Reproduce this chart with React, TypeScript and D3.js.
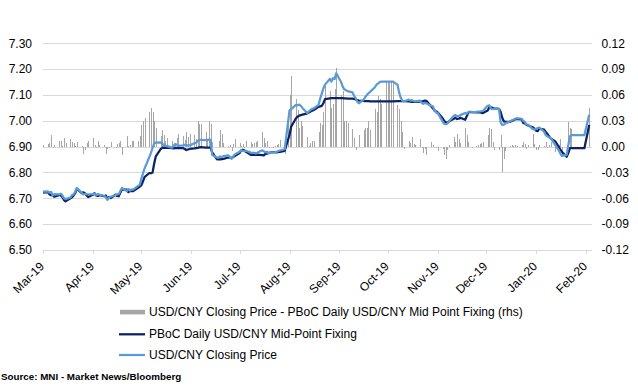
import React from "react";
import * as d3 from "d3";

/* chart size */
const W = 638;
const H = 389;

/* x categories: every weekday from 1 Mar 2019 to 3 Feb 2020 */
const dates = d3.timeDay
  .range(new Date(2019, 2, 1), new Date(2020, 1, 4))
  .filter((d) => d.getDay() !== 0 && d.getDay() !== 6);

const monthLabels = [
  "Mar-19", "Apr-19", "May-19", "Jun-19", "Jul-19", "Aug-19",
  "Sep-19", "Oct-19", "Nov-19", "Dec-19", "Jan-20", "Feb-20",
];
const leftTicks = [6.5, 6.6, 6.7, 6.8, 6.9, 7.0, 7.1, 7.2, 7.3];
const rightTicks = [-0.12, -0.09, -0.06, -0.03, 0, 0.03, 0.06, 0.09, 0.12];

// USD/CNY closing price (light blue)
const closing = [
  // Mar
  6.726, 6.727, 6.722, 6.725, 6.712, 6.716, 6.715, 6.718, 6.712, 6.700, 6.697, 6.703, 6.712, 6.716, 6.725, 6.740, 6.722, 6.715, 6.716, 6.716, 6.715,
  // Apr
  6.716, 6.718, 6.712, 6.716, 6.714, 6.710, 6.704, 6.694, 6.702, 6.706, 6.712, 6.716, 6.716, 6.728, 6.740, 6.728, 6.736, 6.730, 6.735, 6.734, 6.748, 6.752,
  // May
  6.775, 6.795, 6.815, 6.860, 6.876, 6.895, 6.912, 6.916, 6.917, 6.912, 6.906, 6.903, 6.902, 6.896, 6.904, 6.909, 6.908, 6.903, 6.905, 6.907, 6.906, 6.904, 6.905,
  // Jun
  6.913, 6.915, 6.922, 6.926, 6.926, 6.925, 6.926, 6.927, 6.926, 6.868, 6.858, 6.858, 6.862, 6.860, 6.863, 6.866, 6.860, 6.853, 6.862, 6.870,
  // Jul
  6.880, 6.886, 6.884, 6.883, 6.884, 6.877, 6.876, 6.876, 6.874, 6.876, 6.886, 6.882, 6.878, 6.880, 6.874, 6.878, 6.878, 6.880, 6.883, 6.885, 6.890, 6.940, 6.990,
  // Aug
  7.040, 7.045, 7.062, 7.060, 7.063, 7.058, 7.050, 7.030, 7.036, 7.042, 7.046, 7.048, 7.062, 7.085, 7.105, 7.125, 7.140, 7.162, 7.152, 7.165, 7.162, 7.184,
  // Sep
  7.150, 7.132, 7.122, 7.118, 7.115, 7.110, 7.098, 7.088, 7.075, 7.068, 7.082, 7.092, 7.100, 7.107, 7.112, 7.130, 7.140, 7.145, 7.150, 7.152, 7.152,
  // Oct
  7.152, 7.152, 7.152, 7.152, 7.140, 7.110, 7.090, 7.078, 7.075, 7.082, 7.078, 7.080, 7.076, 7.075, 7.078, 7.070, 7.066, 7.070, 7.067, 7.058, 7.056, 7.040, 7.032,
  // Nov
  7.030, 6.998, 6.988, 6.987, 6.990, 6.998, 7.020, 7.022, 7.016, 7.018, 7.022, 7.030, 7.028, 7.034, 7.036, 7.034, 7.035, 7.036, 7.036, 7.037, 7.038,
  // Dec
  7.058, 7.060, 7.048, 7.045, 7.048, 7.045, 6.995, 6.984, 6.985, 6.990, 6.998, 7.002, 7.004, 7.008, 7.010, 7.008, 7.000, 6.996, 6.986, 6.985, 6.968, 6.965,
  // Jan
  6.968, 6.972, 6.974, 6.958, 6.945, 6.940, 6.936, 6.934, 6.906, 6.896, 6.887, 6.875, 6.864, 6.868, 6.905, 6.940, 6.945, 6.945, 6.945, 6.945, 6.945, 6.945, 6.945,
  // Feb
  7.023,
];

// PBoC daily mid-point fixing (navy)
const fixing = [
  // Mar
  6.722, 6.724, 6.716, 6.712, 6.713, 6.706, 6.712, 6.712, 6.705, 6.694, 6.688, 6.700, 6.704, 6.711, 6.720, 6.737, 6.720, 6.723, 6.720, 6.712, 6.705,
  // Apr
  6.714, 6.720, 6.710, 6.709, 6.712, 6.708, 6.711, 6.697, 6.705, 6.701, 6.714, 6.709, 6.708, 6.722, 6.735, 6.734, 6.724, 6.728, 6.729, 6.728, 6.741, 6.745,
  // May
  6.750, 6.765, 6.782, 6.798, 6.797, 6.800, 6.835, 6.862, 6.890, 6.895, 6.896, 6.895, 6.896, 6.894, 6.893, 6.894, 6.895, 6.894, 6.894, 6.891, 6.887, 6.889, 6.891,
  // Jun
  6.893, 6.894, 6.895, 6.897, 6.898, 6.896, 6.896, 6.896, 6.896, 6.878, 6.851, 6.852, 6.851, 6.852, 6.853, 6.858, 6.857, 6.856, 6.860, 6.864,
  // Jul
  6.875, 6.885, 6.888, 6.886, 6.880, 6.868, 6.868, 6.869, 6.868, 6.869, 6.867, 6.866, 6.872, 6.873, 6.876, 6.879, 6.879, 6.878, 6.880, 6.880, 6.884, 6.905, 6.925,
  // Aug
  6.946, 6.977, 7.010, 7.016, 7.020, 7.022, 7.024, 7.029, 7.032, 7.036, 7.039, 7.042, 7.054, 7.056, 7.058, 7.068, 7.084, 7.087, 7.088, 7.088, 7.088, 7.088,
  // Sep
  7.088, 7.088, 7.087, 7.087, 7.086, 7.086, 7.085, 7.083, 7.080, 7.078, 7.077, 7.076, 7.076, 7.076, 7.075, 7.075, 7.075, 7.075, 7.075, 7.075, 7.075,
  // Oct
  7.075, 7.075, 7.075, 7.075, 7.076, 7.076, 7.076, 7.076, 7.076, 7.075, 7.074, 7.073, 7.073, 7.073, 7.074, 7.075, 7.076, 7.078, 7.077, 7.055, 7.048, 7.040, 7.036,
  // Nov
  7.032, 7.010, 7.000, 6.994, 6.992, 6.998, 7.008, 7.012, 7.007, 7.008, 7.012, 7.004, 7.018, 7.032, 7.034, 7.034, 7.033, 7.034, 7.033, 7.031, 7.030,
  // Dec
  7.040, 7.052, 7.052, 7.050, 7.048, 7.046, 7.035, 7.012, 6.998, 6.997, 6.996, 6.999, 7.002, 7.005, 7.007, 7.006, 6.992, 6.990, 6.985, 6.982, 6.975, 6.970,
  // Jan
  6.962, 6.960, 6.970, 6.966, 6.957, 6.950, 6.940, 6.932, 6.920, 6.910, 6.900, 6.890, 6.880, 6.861, 6.875, 6.894, 6.894, 6.894, 6.894, 6.894, 6.894, 6.894, 6.894,
  // Feb
  6.984,
];

// closing minus fixing, grey bars on the right axis (null = no bar)
const spread: (number | null)[] = [
  // Mar
  0.002, 0.003, 0.004, 0.013, -0.002, 0.002, 0.006, 0.007, 0.001, 0.010, 0.004, 0.009, 0.005, 0.004, 0.001, 0.005, 0.001, -0.008, -0.004, 0.004, 0.006,
  // Apr
  0.010, 0.002, -0.002, 0.007, 0.002, 0.002, -0.008, -0.003, -0.001, 0.005, -0.002, 0.003, 0.004, 0.006, -0.010, 0.012, 0.001, 0.002, 0.006, 0.006, 0.007, 0.012,
  // May
  0.025, 0.030, 0.033, 0.040, 0.045, 0.040, 0.030, 0.022, 0.012, 0.019, 0.013, 0.006, 0.010, 0.007, 0.004, 0.004, 0.010, 0.015, 0.012, 0.008, 0.017, 0.011, 0.015,
  // Jun
  0.013, 0.009, 0.030, 0.026, 0.026, 0.017, 0.009, 0.030, 0.026, 0.005, 0.000, 0.006, 0.019, 0.015, 0.004, 0.001, 0.002, -0.005, 0.003, 0.009,
  // Jul
  0.004, 0.001, 0.003, -0.001, 0.007, 0.005, 0.003, 0.004, 0.005, 0.007, 0.017, 0.010, 0.004, 0.007, -0.002, -0.002, 0.001, 0.002, 0.003, 0.008, -0.008, 0.020, 0.030,
  // Aug
  0.060, 0.082, 0.055, 0.042, 0.022, 0.030, 0.024, 0.011, 0.001, 0.004, 0.006, 0.006, 0.017, 0.027, 0.025, 0.040, 0.071, 0.065, 0.045, 0.050, 0.067, 0.091,
  // Sep
  0.060, 0.065, 0.030, 0.030, 0.028, 0.020, 0.010, -0.004, 0.000, 0.013, 0.019, 0.022, 0.022, 0.030, 0.019, 0.044, 0.040, 0.059, 0.055, 0.050, 0.076,
  // Oct
  0.076, 0.076, 0.076, 0.076, 0.048, 0.044, 0.030, 0.017, -0.003, 0.007, 0.004, 0.011, 0.003, 0.002, 0.009, -0.002, -0.007, -0.003, -0.010, 0.005, 0.002, 0.000, -0.002,
  // Nov
  -0.005, -0.003, -0.010, -0.014, -0.004, 0.002, 0.011, 0.005, 0.015, 0.009, 0.004, 0.022, 0.013, 0.005, 0.000, -0.002, 0.001, 0.002, 0.003, 0.004, 0.005,
  // Dec
  0.013, 0.022, 0.020, 0.005, -0.004, -0.004, 0.013, -0.029, -0.014, -0.005, 0.001, 0.002, 0.001, 0.002, 0.001, 0.002, 0.005, 0.003, -0.003, 0.002, 0.015, 0.003,
  // Jan
  -0.004, -0.004, 0.002, 0.001, 0.005, -0.002, 0.002, 0.005, -0.006, -0.004, 0.002, 0.009, -0.010, 0.002, 0.029, 0.022, 0.020, null, null, null, null, null, null,
  // Feb
  0.045,
];

const legendItems = [
  "USD/CNY Closing Price - PBoC Daily USD/CNY Mid Point Fixing (rhs)",
  "PBoC Daily USD/CNY Mid-Point Fixing",
  "USD/CNY Closing Price",
];

const font = "'Liberation Sans', Arial, sans-serif";
const navy = "#0b2265";
const lightBlue = "#5b9bd5";
const grey = "#a6a6a6";
const gridColor = "#d9d9d9";

const App = () => {
  /* plot area */
  const left = 43;
  const right = 592;
  const top = 43.3;
  const bottom = 250;

  const start = new Date(2019, 2, 1);
  const x = d3
    .scaleTime()
    .domain([start, new Date(2020, 1, 1)])
    .range([left, 586]);
  const yL = d3.scaleLinear().domain([6.5, 7.3]).range([bottom, top]);
  const yR = d3.scaleLinear().domain([-0.12, 0.12]).range([bottom, top]);

  const n = Math.min(dates.length, closing.length, fixing.length, spread.length);
  const idx = d3.range(n);

  const lineClose = d3
    .line<number>()
    .x((i) => x(dates[i]))
    .y((i) => yL(closing[i]));
  const lineFix = d3
    .line<number>()
    .x((i) => x(dates[i]))
    .y((i) => yL(fixing[i]));

  const monthDates = monthLabels.map((_, i) => d3.timeMonth.offset(start, i));

  return (
    <svg
      width={W}
      height={H}
      style={{ position: "absolute", left: 0, top: 0, background: "#fff" }}
      fontFamily={font}
    >
      {/* gridlines */}
      {leftTicks.map((t) => (
        <line
          key={t}
          x1={left}
          x2={right}
          y1={Math.round(yL(t)) + 0.5}
          y2={Math.round(yL(t)) + 0.5}
          stroke={gridColor}
          strokeWidth={1}
        />
      ))}
      {/* x ticks */}
      {monthDates.map((d, i) => (
        <line
          key={i}
          x1={Math.round(x(d)) + 0.5}
          x2={Math.round(x(d)) + 0.5}
          y1={bottom}
          y2={bottom + 4}
          stroke={gridColor}
        />
      ))}

      {/* spread bars */}
      <g shapeRendering="crispEdges">
        {idx
          .filter((i) => spread[i] !== null)
          .map((i) => {
            const v = spread[i] as number;
            const y0 = yR(0);
            const y1 = yR(v);
            return (
              <rect
                key={i}
                x={Math.round(x(dates[i]))}
                y={Math.min(y0, y1)}
                width={1}
                height={Math.abs(y1 - y0)}
                fill={grey}
              />
            );
          })}
      </g>

      {/* lines */}
      <path d={lineFix(idx) || ""} fill="none" stroke={navy} strokeWidth={2.25} strokeLinejoin="round" />
      <path d={lineClose(idx) || ""} fill="none" stroke={lightBlue} strokeWidth={2.25} strokeLinejoin="round" />

      {/* left axis labels */}
      {leftTicks.map((t) => (
        <text key={t} x={32} y={yL(t)} dy="0.35em" textAnchor="end" fontSize={12} fill="#000">
          {t.toFixed(2)}
        </text>
      ))}
      {/* right axis labels */}
      {rightTicks.map((t) => (
        <text key={t} x={601.5} y={yR(t)} dy="0.35em" textAnchor="start" fontSize={12} fill="#000">
          {t.toFixed(2)}
        </text>
      ))}
      {/* month labels */}
      {monthDates.map((d, i) => (
        <text
          key={i}
          transform={`translate(${x(d) + 2},${267}) rotate(-45)`}
          textAnchor="end"
          fontSize={12}
          fill="#000"
        >
          {monthLabels[i]}
        </text>
      ))}

      {/* legend */}
      <rect x={120} y={309.8} width={25} height={4.6} fill={grey} />
      <line x1={119} x2={145} y1={334.3} y2={334.3} stroke={navy} strokeWidth={2.25} />
      <line x1={119} x2={145} y1={355} y2={355} stroke={lightBlue} strokeWidth={2.25} />
      {legendItems.map((s, i) => (
        <text key={s} x={149} y={316 + i * 21.5} fontSize={12} fill="#000">
          {s}
        </text>
      ))}

      {/* source */}
      <text x={1} y={380} fontSize={9.8} fontWeight="bold" fill="#000">
        Source: MNI - Market News/Bloomberg
      </text>
    </svg>
  );
};

export default App;
